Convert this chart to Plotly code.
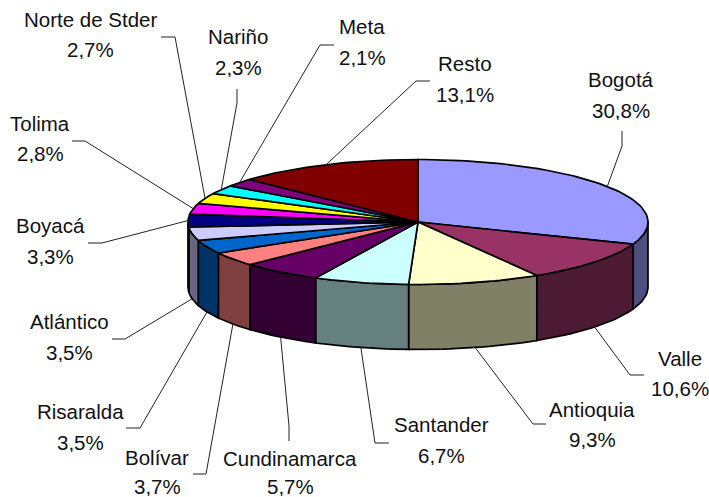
import math
import plotly.graph_objects as go

categories = ["Bogotá", "Valle", "Antioquia", "Santander", "Cundinamarca", "Bolívar", "Risaralda",
              "Atlántico", "Boyacá", "Tolima", "Norte de Stder", "Nariño", "Meta", "Resto"]
values = [30.8, 10.6, 9.3, 6.7, 5.7, 3.7, 3.5, 3.5, 3.3, 2.8, 2.7, 2.3, 2.1, 13.1]
top_colors = ["#9999FF", "#993366", "#FFFFCC", "#CCFFFF", "#660066", "#FF8080", "#0066CC",
              "#CCCCFF", "#000080", "#FF00FF", "#FFFF00", "#00FFFF", "#800080", "#800000"]
side_colors = ["#4D4D80", "#4D1A33", "#808066", "#668080", "#330033", "#804040", "#003366",
               "#666680", "#000040", "#800080", "#808000", "#008080", "#400040", "#400000"]

# Pie projection (pixels)
CX, CY, RX, RY, DEPTH = 418.0, 222.0, 230.0, 62.5, 65.0
TOTAL = sum(values)

# label centre x, y of name line, y of value line
label_pos = {
    "Bogotá": (621, 79, 110), "Valle": (680, 358, 388), "Antioquia": (592, 409, 439),
    "Santander": (441, 424, 455), "Cundinamarca": (290, 458, 486), "Bolívar": (157, 457, 486),
    "Risaralda": (80, 411, 442), "Atlántico": (69, 321, 352), "Boyacá": (50, 225, 256),
    "Tolima": (40, 123, 153), "Norte de Stder": (90, 19, 49), "Nariño": (238, 36, 67),
    "Meta": (362, 26, 57), "Resto": (465, 63, 94),
}
# leader line: free end and elbow
leader_pts = {
    "Bogotá": ((622, 131), (622, 146)), "Valle": ((644, 375), (630, 375)),
    "Antioquia": ((546, 424), (533, 424)), "Santander": ((389, 443), (375, 443)),
    "Cundinamarca": ((289, 441), (289, 426)), "Bolívar": ((193, 474), (206, 474)),
    "Risaralda": ((126, 428), (140, 428)), "Atlántico": ((112, 339), (125, 339)),
    "Boyacá": ((88, 243), (102, 243)), "Tolima": ((72, 141), (85, 141)),
    "Norte de Stder": ((161, 37), (175, 37)), "Nariño": ((237, 89), (237, 103)),
    "Meta": ((334, 45), (320, 45)), "Resto": ((430, 81), (416, 81)),
}


def rim(deg, drop=0.0):
    r = math.radians(deg)
    return CX + RX * math.sin(r), CY - RY * math.cos(r) + drop


def arc(a, b, drop=0.0):
    n = max(2, int(abs(b - a) / 1.5) + 2)
    return [rim(a + (b - a) * i / (n - 1), drop) for i in range(n)]


def poly(points, fill):
    xs = [p[0] for p in points] + [points[0][0]]
    ys = [p[1] for p in points] + [points[0][1]]
    return go.Scatter(x=xs, y=ys, mode="lines", fill="toself", fillcolor=fill,
                      line=dict(color="black", width=1.7), hoverinfo="skip", showlegend=False)


bounds = []
c = 0.0
for v in values:
    bounds.append((c / TOTAL * 360, (c + v) / TOTAL * 360))
    c += v

fig = go.Figure()

# Sides: only the front half of the drum shows
for (a, b), col in zip(bounds, side_colors):
    s, e = max(a, 90), min(b, 270)
    if e > s:
        fig.add_trace(poly(arc(s, e) + arc(e, s, DEPTH), col))

# Top faces
for (a, b), col in zip(bounds, top_colors):
    fig.add_trace(poly([(CX, CY)] + arc(a, b), col))

# Leaders and labels
annotations = []
font = dict(family="Liberation Sans, Arial, sans-serif", size=20.5, color="#111111")
for name, v, (a, b) in zip(categories, values, bounds):
    mid = (a + b) / 2
    anchor = rim(mid, DEPTH if 90 < mid < 270 else 0)
    free, elbow = leader_pts[name]
    fig.add_trace(go.Scatter(x=[free[0], elbow[0], anchor[0]], y=[free[1], elbow[1], anchor[1]],
                             mode="lines", line=dict(color="#222222", width=1),
                             hoverinfo="skip", showlegend=False))
    lx, y1, y2 = label_pos[name]
    pct = f"{v:.1f}%".replace(".", ",")
    annotations.append(dict(x=lx, y=y1, xref="x", yref="y", text=name, showarrow=False,
                            xanchor="center", yanchor="middle", font=font))
    annotations.append(dict(x=lx, y=y2, xref="x", yref="y", text=pct, showarrow=False,
                            xanchor="center", yanchor="middle", font=font, height=20,
                            borderpad=0))

fig.update_layout(
    width=709, height=497, margin=dict(l=0, r=0, t=0, b=0),
    paper_bgcolor="white", plot_bgcolor="white", showlegend=False,
    xaxis=dict(range=[0, 709], visible=False, fixedrange=True),
    yaxis=dict(range=[497, 0], visible=False, fixedrange=True),
    annotations=annotations,
)
fig.write_html("out.html", config={"displayModeBar": False},
               post_script="document.body.style.margin='0';document.body.style.overflow='hidden';")
